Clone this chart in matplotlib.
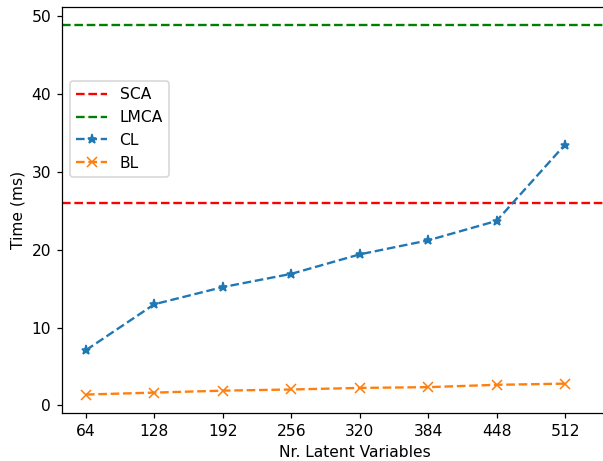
import matplotlib
matplotlib.use("Agg")
import matplotlib.pyplot as plt

# ==========================================
# DATA
# ==========================================
latent_vars = [64, 128, 192, 256, 320, 384, 448, 512]
cl_times = [7.1, 13.0, 15.2, 16.9, 19.4, 21.2, 23.7, 33.5]
bl_times = [1.4, 1.65, 1.9, 2.05, 2.25, 2.35, 2.65, 2.8]
sca_time = 26.0
lmca_time = 48.8

# ==========================================
# PLOT
# ==========================================
DPI = 112
fig = plt.figure(figsize=(603 / DPI, 461 / DPI), dpi=DPI)
ax = fig.add_axes([62 / 603, 48 / 461, (648 - 62) / 603, 406 / 461])

ax.axhline(sca_time, color="red", linestyle="--", label="SCA")
ax.axhline(lmca_time, color="green", linestyle="--", label="LMCA")
ax.plot(latent_vars, cl_times, marker="*", linestyle="--", label="CL")
ax.plot(latent_vars, bl_times, marker="x", linestyle="--", label="BL")

ax.set_xticks(latent_vars)
ax.set_xlim(41.6, 589.6)
ax.set_xlabel("Nr. Latent Variables")
ax.set_ylabel("Time (ms)")
ax.legend(loc="upper left", bbox_to_anchor=(0, 0.837))

fig.savefig("out.png", dpi=DPI)
